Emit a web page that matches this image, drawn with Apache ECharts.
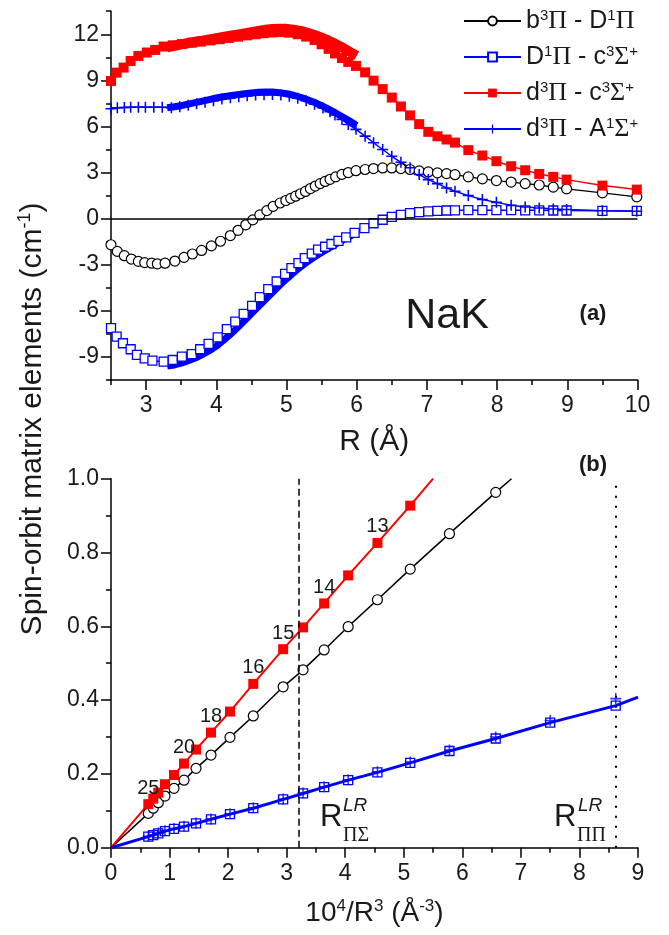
<!DOCTYPE html>
<html><head><meta charset="utf-8">
<script src="https://cdn.jsdelivr.net/npm/echarts@6/dist/echarts.min.js"></script>
<style>html,body{margin:0;padding:0;background:#fff}#c{width:669px;height:935px}</style>
</head><body><div id="c"></div>
<script>
// ================= Panel (a): spin-orbit functions vs R =================
const N1 = 'b³Π - D¹Π', N2 = 'D¹Π - c³Σ⁺', N3 = 'd³Π - c³Σ⁺', N4 = 'd³Π - A¹Σ⁺';

const circR = [2.50,2.59,2.69,2.79,2.89,2.98,3.08,3.16,3.27,3.41,3.54,3.66,3.79,3.93,4.06,4.20,4.31,4.42,4.52,4.62,4.72,4.81,4.91,4.99,5.06,5.13,5.20,5.27,5.34,5.41,5.48,5.55,5.62,5.70,5.79,5.88,5.99,6.12,6.24,6.37,6.50,6.63,6.76,6.89,7.02,7.15,7.28,7.40,7.59,7.79,7.99,8.20,8.40,8.60,8.80,8.99,9.50,9.99];
const circV = [-1.70,-2.13,-2.41,-2.63,-2.78,-2.86,-2.90,-2.94,-2.90,-2.76,-2.52,-2.30,-2.07,-1.77,-1.47,-1.10,-0.76,-0.40,-0.08,0.24,0.52,0.80,1.02,1.18,1.32,1.46,1.62,1.77,1.96,2.12,2.28,2.42,2.56,2.72,2.88,3.00,3.12,3.20,3.26,3.30,3.30,3.26,3.20,3.11,3.04,2.98,2.93,2.86,2.72,2.59,2.48,2.38,2.28,2.19,2.05,1.94,1.68,1.42];

const sqR = [2.50,2.58,2.67,2.78,2.87,2.98,3.09,3.25,3.38,3.51,3.65,3.77,3.89,4.02,4.15,4.27,4.39,4.51,4.62,4.74,4.86,4.98,5.07,5.17,5.26,5.36,5.45,5.55,5.64,5.74,5.85,5.97,6.11,6.24,6.37,6.50,6.63,6.76,6.89,7.02,7.15,7.28,7.40,7.59,7.79,7.99,8.20,8.40,8.60,8.80,8.99,9.50,9.99];
const sqV = [-7.13,-7.68,-8.11,-8.50,-8.87,-9.09,-9.24,-9.31,-9.20,-8.98,-8.81,-8.50,-8.15,-7.72,-7.19,-6.70,-6.20,-5.68,-5.11,-4.59,-4.09,-3.59,-3.22,-2.89,-2.57,-2.28,-2.02,-1.83,-1.65,-1.45,-1.22,-0.93,-0.62,-0.30,-0.07,0.11,0.25,0.36,0.42,0.47,0.51,0.53,0.54,0.55,0.55,0.55,0.55,0.54,0.54,0.53,0.53,0.51,0.50];

const redR = [2.50,2.58,2.68,2.78,2.89,3.01,3.13,3.25,3.38,3.51,3.65,3.78,3.92,4.05,4.18,4.31,4.44,4.56,4.68,4.80,4.92,5.04,5.16,5.28,5.40,5.50,5.60,5.69,5.79,5.88,5.99,6.12,6.24,6.37,6.50,6.63,6.76,6.89,7.02,7.15,7.28,7.40,7.59,7.79,7.99,8.20,8.40,8.60,8.80,8.99,9.50,9.99];
const redV = [8.96,9.50,9.83,10.26,10.59,10.81,10.98,11.20,11.28,11.36,11.45,11.52,11.60,11.68,11.76,11.84,11.93,12.00,12.07,12.12,12.14,12.10,12.00,11.85,11.62,11.35,11.05,10.75,10.45,10.20,9.94,9.52,8.98,8.43,7.88,7.30,6.72,6.15,5.65,5.36,5.15,4.95,4.46,4.11,3.74,3.41,3.15,2.91,2.72,2.54,2.15,1.89];

const crR = [2.50,2.59,2.69,2.78,2.89,2.99,3.11,3.23,3.36,3.48,3.60,3.72,3.84,3.96,4.08,4.20,4.32,4.44,4.56,4.68,4.80,4.92,5.04,5.16,5.28,5.40,5.52,5.62,5.69,5.79,5.88,5.99,6.12,6.24,6.37,6.50,6.63,6.76,6.89,7.02,7.15,7.28,7.40,7.59,7.79,7.99,8.20,8.40,8.60,8.80,8.99,9.50,9.99];
const crV = [7.15,7.22,7.24,7.25,7.25,7.25,7.25,7.25,7.22,7.28,7.38,7.48,7.58,7.68,7.78,7.86,7.93,7.99,8.04,8.07,8.08,8.04,7.96,7.84,7.67,7.45,7.20,6.95,6.75,6.46,6.13,5.81,5.37,4.94,4.50,4.06,3.67,3.31,2.87,2.54,2.28,2.00,1.78,1.50,1.24,1.06,0.87,0.76,0.69,0.63,0.59,0.52,0.48];

// dense (ab initio) sets, 3.3 - 6.0 A
const denseR   = [3.3,3.4,3.5,3.6,3.7,3.8,3.9,4.0,4.1,4.2,4.3,4.4,4.5,4.6,4.7,4.8,4.9,5.0,5.1,5.2,5.3,5.4,5.5,5.6,5.7,5.8,5.9,6.0];
const denseRed = [11.15,11.25,11.34,11.43,11.51,11.58,11.66,11.74,11.82,11.90,11.98,12.06,12.14,12.22,12.29,12.34,12.36,12.35,12.30,12.22,12.10,11.95,11.78,11.58,11.36,11.12,10.86,10.60];
const denseCr  = [7.22,7.28,7.35,7.45,7.55,7.65,7.75,7.85,7.93,8.00,8.07,8.13,8.18,8.22,8.24,8.24,8.20,8.13,8.03,7.90,7.74,7.56,7.35,7.12,6.88,6.62,6.35,6.07];
const denseSq  = [-9.60,-9.52,-9.40,-9.25,-9.07,-8.85,-8.60,-8.30,-7.92,-7.53,-7.10,-6.65,-6.18,-5.72,-5.26,-4.80,-4.35,-3.93,-3.52,-3.14,-2.80,-2.48,-2.20,-1.93,-1.66,-1.40,-1.15,-0.90];

const aXMajor = [3,4,5,6,7,8,9,10];
const aXMinor = [2.5,3.5,4.5,5.5,6.5,7.5,8.5,9.5];
const aYMajor = [-9,-6,-3,0,3,6,9,12];
const aYMinor = [-10.5,-7.5,-4.5,-1.5,1.5,4.5,7.5,10.5,13.5];

// ================= Panel (b): vs 10^4/R^3 =================
const bX      = [0.637,0.722,0.808,0.922,1.076,1.247,1.452,1.708,2.032,2.43,2.94,3.28,3.64,4.05,4.55,5.11,5.78,6.57,7.50,8.62];
const bRed    = [0.118,0.133,0.149,0.172,0.197,0.228,0.266,0.312,0.369,0.444,0.538,0.597,0.662,0.738,0.826,0.927];
const bRedLbl = ['25','','','','','20','','18','','16','15','','14','','13',''];
const bBlack  = [0.093,0.107,0.122,0.140,0.161,0.183,0.215,0.251,0.299,0.357,0.436,0.482,0.536,0.599,0.672,0.755,0.851,0.963];
const bSq     = [0.030,0.034,0.039,0.045,0.051,0.057,0.066,0.077,0.091,0.107,0.131,0.147,0.164,0.183,0.204,0.230,0.262,0.296,0.339,0.385];
const bCr     = [0.031,0.035,0.040,0.046,0.052,0.058,0.067,0.078,0.092,0.108,0.132,0.148,0.165,0.184,0.206,0.232,0.265,0.300,0.345,0.404];
const bRedEnd = [5.50,1.0], bBlackEnd = [6.84,1.0], bBlueEnd = [9.0,0.408];
const bVLines = [3.21, 8.62];

const bXMajor = [0,1,2,3,4,5,6,7,8,9];
const bXMinor = [0.5,1.5,2.5,3.5,4.5,5.5,6.5,7.5,8.5];
const bYMajor = [0,0.2,0.4,0.6,0.8,1.0];
const bYMinor = [0.1,0.3,0.5,0.7,0.9];

// ================= styling =================
const F = 'Liberation Sans, Arial, sans-serif';
const SF = 'Liberation Serif, Times New Roman, serif';
const TXT = '#1a1a1a';
const BLUE = '#0000ff', RED = '#ff0000';
const PLUS = 'path://M4.3,0H5.7V4.3H10V5.7H5.7V10H4.3V5.7H0V4.3H4.3Z';
const zip = (xs, ys) => ys.map((y, i) => [xs[i], y]);
const TICKFS = 23;

const richBase = {
  t: {fontSize: 25, fontFamily: F, color: TXT, lineHeight: 26},
  p: {fontSize: 26, fontFamily: SF, color: TXT, lineHeight: 26},
  s: {fontSize: 15, fontFamily: F, color: TXT, lineHeight: 15, verticalAlign: 'top'}
};
const legendText = {};
legendText[N1] = '{t|b}{s|3}{p|Π}{t| - D}{s|1}{p|Π}';
legendText[N2] = '{t|D}{s|1}{p|Π}{t| - c}{s|3}{p|Σ}{s|+}';
legendText[N3] = '{t|d}{s|3}{p|Π}{t| - c}{s|3}{p|Σ}{s|+}';
legendText[N4] = '{t|d}{s|3}{p|Π}{t| - A}{s|1}{p|Σ}{s|+}';

function majorAxis(grid, min, max, vals, pos, extra) {
  return Object.assign({
    type: 'value', gridIndex: grid, min: min, max: max, position: pos,
    axisLine: {show: true, onZero: false, lineStyle: {color: '#000', width: 1.5}},
    axisTick: {show: true, inside: false, length: 10, customValues: vals, lineStyle: {color: '#000', width: 1.5}},
    axisLabel: {show: true, customValues: vals, fontSize: TICKFS, fontFamily: F, color: TXT},
    splitLine: {show: false}
  }, extra || {});
}
function minorAxis(grid, min, max, vals, pos) {
  return {
    type: 'value', gridIndex: grid, min: min, max: max, position: pos, offset: 0,
    axisLine: {show: false, onZero: false},
    axisTick: {show: true, inside: false, length: 5, customValues: vals, lineStyle: {color: '#000', width: 1.5}},
    axisLabel: {show: false},
    splitLine: {show: false}
  };
}

const endPt = p => ({value: p, symbol: 'none'});

const option = {
  animation: false,
  backgroundColor: '#fff',
  grid: [
    {left: 111, right: 31.5, top: 11.2, bottom: 555},
    {left: 111, right: 31, top: 478.7, bottom: 87.3}
  ],
  xAxis: [
    majorAxis(0, 2.5, 10, aXMajor, 'bottom', {
      axisLabel: {customValues: aXMajor, fontSize: TICKFS, fontFamily: F, color: TXT, margin: 14},
      name: 'R (Å)', nameLocation: 'middle', nameGap: 47,
      nameTextStyle: {fontSize: 30, fontFamily: F, color: TXT}
    }),
    minorAxis(0, 2.5, 10, aXMinor, 'bottom'),
    majorAxis(1, 0, 9, bXMajor, 'bottom', {
      axisLabel: {customValues: bXMajor, fontSize: TICKFS, fontFamily: F, color: TXT, margin: 14},
      name: '{t|10}{s|4}{t|/R}{s|3}{t| (Å}{s|-3}{t|)}', nameLocation: 'middle', nameGap: 50,
      nameTextStyle: {rich: {
        t: {fontSize: 28, fontFamily: F, color: TXT, lineHeight: 32},
        s: {fontSize: 17, fontFamily: F, color: TXT, lineHeight: 18, verticalAlign: 'top'}
      }}
    }),
    minorAxis(1, 0, 9, bXMinor, 'bottom')
  ],
  yAxis: [
    majorAxis(0, -10.5, 13.5, aYMajor, 'left', {
      axisLabel: {customValues: aYMajor, fontSize: TICKFS, fontFamily: F, color: TXT, margin: 12}
    }),
    minorAxis(0, -10.5, 13.5, aYMinor, 'left'),
    majorAxis(1, 0, 1, bYMajor, 'left', {
      axisLabel: {customValues: bYMajor, fontSize: TICKFS, fontFamily: F, color: TXT, margin: 12,
                  formatter: v => Number(v).toFixed(1)}
    }),
    minorAxis(1, 0, 1, bYMinor, 'left')
  ],
  legend: {
    data: [N1, N2, N3, N4],
    orient: 'vertical', left: 458, top: 3,
    itemWidth: 57, itemHeight: 11, itemGap: 10,
    formatter: n => legendText[n],
    textStyle: {rich: richBase, fontSize: 25, fontFamily: F, color: TXT}
  },
  series: [
    // ---- panel (a) sparse sets ----
    {name: N1, type: 'line', xAxisIndex: 0, yAxisIndex: 0, data: zip(circR, circV),
     symbol: 'circle', symbolSize: 10,
     itemStyle: {color: '#fff', borderColor: '#000', borderWidth: 1.2},
     lineStyle: {color: '#000', width: 1.3},
     markLine: {silent: true, symbol: ['none', 'none'], label: {show: false},
                lineStyle: {color: '#000', width: 1.5, type: 'solid'}, data: [{yAxis: 0}]}},
    {name: N2, type: 'line', xAxisIndex: 0, yAxisIndex: 0, data: zip(sqR, sqV),
     symbol: 'rect', symbolSize: 9,
     itemStyle: {color: '#fff', borderColor: BLUE, borderWidth: 1.3},
     lineStyle: {color: BLUE, width: 1.5}},
    {name: N3, type: 'line', xAxisIndex: 0, yAxisIndex: 0, data: zip(redR, redV),
     symbol: 'rect', symbolSize: 10,
     itemStyle: {color: RED}, lineStyle: {color: RED, width: 1.5}},
    {name: N4, type: 'line', xAxisIndex: 0, yAxisIndex: 0, data: zip(crR, crV),
     symbol: PLUS, symbolSize: 11,
     itemStyle: {color: BLUE}, lineStyle: {color: BLUE, width: 1.5}},
    // ---- panel (a) dense sets ----
    {name: 'd3Pi-c3Sigma dense', type: 'line', xAxisIndex: 0, yAxisIndex: 0, data: zip(denseR, denseRed),
     showSymbol: false, lineStyle: {color: RED, width: 10, cap: 'butt'}},
    {name: 'd3Pi-A1Sigma dense', type: 'line', xAxisIndex: 0, yAxisIndex: 0, data: zip(denseR, denseCr),
     showSymbol: false, lineStyle: {color: BLUE, width: 7, cap: 'butt'}},
    {name: 'D1Pi-c3Sigma dense', type: 'line', xAxisIndex: 0, yAxisIndex: 0, data: zip(denseR, denseSq),
     showSymbol: false, lineStyle: {color: BLUE, width: 7, cap: 'butt'}},
    // ---- panel (b) ----
    {name: 'b-black', type: 'line', xAxisIndex: 2, yAxisIndex: 2,
     data: [endPt([0, 0])].concat(zip(bX, bBlack)).concat([endPt(bBlackEnd)]),
     symbol: 'circle', symbolSize: 10,
     itemStyle: {color: '#fff', borderColor: '#000', borderWidth: 1.2},
     lineStyle: {color: '#000', width: 1.5}},
    {name: 'b-red', type: 'line', xAxisIndex: 2, yAxisIndex: 2,
     data: [endPt([0, 0])].concat(zip(bX, bRed).map((p, i) => bRedLbl[i] ? {
        value: p, label: {show: true, formatter: bRedLbl[i], position: 'top', distance: 1,
                          fontSize: 20, fontFamily: F, color: TXT}} : p)).concat([endPt(bRedEnd)]),
     symbol: 'rect', symbolSize: 10,
     itemStyle: {color: RED}, lineStyle: {color: RED, width: 2}},
    {name: 'b-blue-sq', type: 'line', xAxisIndex: 2, yAxisIndex: 2,
     data: [endPt([0, 0])].concat(zip(bX, bSq)).concat([endPt(bBlueEnd)]),
     symbol: 'rect', symbolSize: 9,
     itemStyle: {color: 'rgba(255,255,255,0)', borderColor: BLUE, borderWidth: 1.3},
     lineStyle: {color: BLUE, width: 3},
     markLine: {silent: true, symbol: ['none', 'none'], label: {show: false},
       data: [
         {xAxis: bVLines[0], lineStyle: {color: '#000', width: 1.5, type: [7, 4]}},
         {xAxis: bVLines[1], lineStyle: {color: '#000', width: 2, type: [2, 8]}}
       ]}},
    {name: 'b-blue-cr', type: 'scatter', xAxisIndex: 2, yAxisIndex: 2,
     data: zip(bX, bCr), symbol: PLUS, symbolSize: 11, itemStyle: {color: BLUE}}
  ],
  graphic: [
    {type: 'text', x: 33, y: 419, rotation: Math.PI / 2,
     style: {text: '{t|Spin-orbit matrix elements (cm}{s|-1}{t|)}', align: 'center', verticalAlign: 'middle',
       rich: {t: {fontSize: 30, fontFamily: F, fill: TXT, lineHeight: 34},
              s: {fontSize: 18, fontFamily: F, fill: TXT, lineHeight: 19, verticalAlign: 'top'}}}},
    {type: 'text', x: 447, y: 316, style: {text: 'NaK', font: '43px ' + F, fill: TXT, align: 'center', verticalAlign: 'middle'}},
    {type: 'text', x: 593, y: 314, style: {text: '(a)', font: 'bold 22px ' + F, fill: TXT, align: 'center', verticalAlign: 'middle'}},
    {type: 'text', x: 593, y: 465, style: {text: '(b)', font: 'bold 22px ' + F, fill: TXT, align: 'center', verticalAlign: 'middle'}},
    {type: 'text', x: 320, y: 817, style: {text: 'R', font: '31px ' + F, fill: TXT, align: 'left', verticalAlign: 'middle'}},
    {type: 'text', x: 343, y: 806, style: {text: 'LR', font: 'italic 19px ' + F, fill: TXT, align: 'left', verticalAlign: 'middle'}},
    {type: 'text', x: 343, y: 836, style: {text: 'ΠΣ', font: '20px ' + SF, fill: TXT, align: 'left', verticalAlign: 'middle'}},
    {type: 'text', x: 554, y: 817, style: {text: 'R', font: '31px ' + F, fill: TXT, align: 'left', verticalAlign: 'middle'}},
    {type: 'text', x: 578, y: 806, style: {text: 'LR', font: 'italic 19px ' + F, fill: TXT, align: 'left', verticalAlign: 'middle'}},
    {type: 'text', x: 577, y: 836, style: {text: 'ΠΠ', font: '20px ' + SF, fill: TXT, align: 'left', verticalAlign: 'middle'}}
  ]
};

const chart = echarts.init(document.getElementById('c'), null, {renderer: 'canvas'});
chart.setOption(option);
</script>
</body></html>
